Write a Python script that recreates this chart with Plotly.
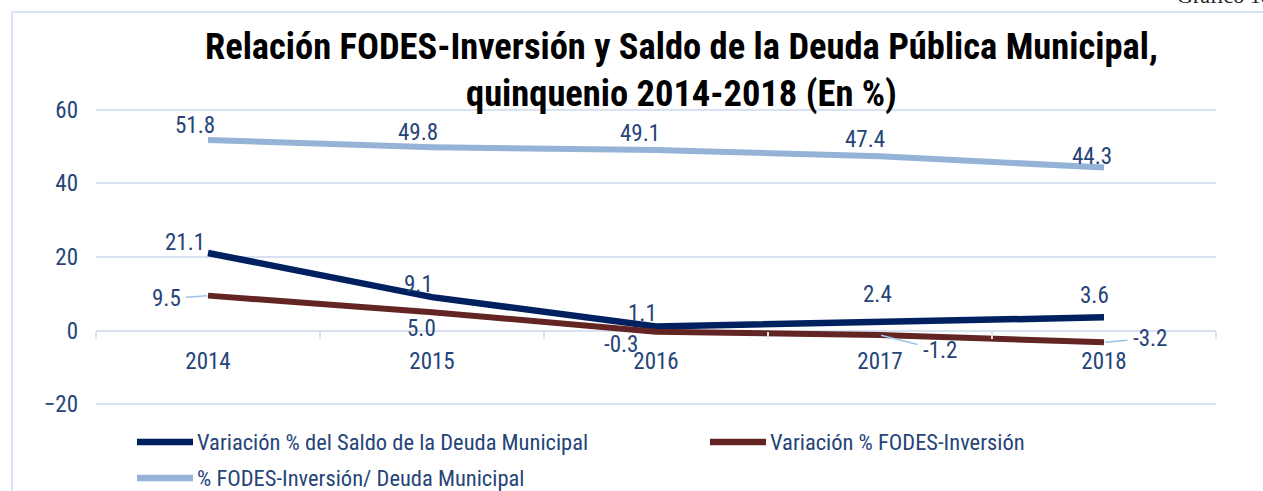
import plotly.graph_objects as go

# ---------------- data ----------------
years = ["2014", "2015", "2016", "2017", "2018"]
var_deuda = [21.1, 9.1, 1.1, 2.4, 3.6]
var_fodes = [9.5, 5.0, -0.3, -1.2, -3.2]
fodes_deuda = [51.8, 49.8, 49.1, 47.4, 44.3]
series_names = [
    "Variación % del Saldo de la Deuda Municipal",
    "Variación % FODES-Inversión",
    "% FODES-Inversión/ Deuda Municipal",
]
y_ticks = [-20, 0, 20, 40, 60]
title_text = "Relación FODES-Inversión y Saldo de la Deuda Pública Municipal,<br>quinquenio 2014-2018 (En %)"
corner_text = "Gráfico 18"

# ---------------- style ----------------
W, H = 1263, 491
L, R, T, B = 96, 1216, 108, 406
YMIN, YMAX = -20.5, 60.5
FONT = "Liberation Sans Narrow, Arial Narrow, Roboto Condensed, DejaVu Sans Condensed, sans-serif"
TXT = "#264478"
GRID = "#D9E2F3"
colors = ["#002060", "#632523", "#95B3D7"]
widths = [6.5, 6, 6]
LEADER = "#9DC3E6"
FS = 23


def px(xp):
    return (xp - L) / (R - L)


def py(yp):
    return (B - yp) / (B - T)


fig = go.Figure()
all_series = [var_deuda, var_fodes, fodes_deuda]
for vals, name, c, w in zip(all_series, series_names, colors, widths):
    fig.add_trace(go.Scatter(x=years, y=vals, name=name, mode="lines",
                             line=dict(color=c, width=w), showlegend=False))

# data labels: ("s", xshift, yshift) or ("a", ax, ay) with leader line
label_style = [
    [("s", -23, 10), ("s", -14, 13), ("s", -14, 13), ("s", -3, 27), ("s", -10, 22)],
    [("a", -42, 3), ("s", -11, -16), ("s", -35, -13), ("a", 60, 15), ("a", 46, -4)],
    [("s", -13, 15), ("s", -14, 15), ("s", -16, 16), ("s", -15, 17), ("s", -12, 11)],
]
for vals, styles in zip(all_series, label_style):
    for i, (v, st) in enumerate(zip(vals, styles)):
        kind, dx, dy = st
        if kind == "s":
            fig.add_annotation(xref="x", yref="y", x=i, y=v, text=f"{v:.1f}",
                               showarrow=False, xshift=dx, yshift=dy,
                               font=dict(family=FONT, size=FS, color=TXT))
        else:
            fig.add_annotation(xref="x", yref="y", x=i, y=v, text=f"{v:.1f}",
                               showarrow=True, axref="pixel", ayref="pixel",
                               ax=dx, ay=dy, arrowhead=0, arrowwidth=1.5,
                               arrowcolor=LEADER, standoff=1, startstandoff=4,
                               font=dict(family=FONT, size=FS, color=TXT))

# title
fig.add_annotation(xref="paper", yref="paper", x=px(681), y=py(23), yanchor="top",
                   xanchor="center", text=f"<b>{title_text}</b>", showarrow=False,
                   font=dict(family=FONT, size=36.5, color="#000000"))
# corner text (partially cut off at the top edge, as in the reference)
fig.add_annotation(xref="paper", yref="paper", x=px(1175), y=py(10), yanchor="bottom",
                   xanchor="left", text=corner_text, showarrow=False,
                   font=dict(family="Liberation Serif, serif", size=22, color="#222222"))

# frame (left and top)
FRAME = "#D6E3F3"
fig.add_shape(type="line", xref="paper", yref="paper", x0=px(12), x1=px(12),
              y0=py(12), y1=py(500), line=dict(color=FRAME, width=2))
fig.add_shape(type="line", xref="paper", yref="paper", x0=px(12), x1=px(1300),
              y0=py(12), y1=py(12), line=dict(color=FRAME, width=2))

# custom legend
legend_pos = [(137, 442), (710, 442), (137, 478)]
for (lx, ly), name, c in zip(legend_pos, series_names, colors):
    fig.add_shape(type="line", xref="paper", yref="paper", x0=px(lx), x1=px(lx + 56),
                  y0=py(ly), y1=py(ly), line=dict(color=c, width=6.5))
    fig.add_annotation(xref="paper", yref="paper", x=px(lx + 58), y=py(ly),
                       xanchor="left", yanchor="middle", text=name, showarrow=False,
                       font=dict(family=FONT, size=22.5, color=TXT))

fig.update_layout(
    width=W, height=H,
    margin=dict(l=L, r=W - R, t=T, b=H - B, pad=0),
    paper_bgcolor="white", plot_bgcolor="white",
    showlegend=False,
    xaxis=dict(type="category", categoryorder="array", categoryarray=years,
               range=[-0.5, len(years) - 0.5], anchor="free",
               position=(0 - YMIN) / (YMAX - YMIN),
               showgrid=False, showline=False, zeroline=False,
               ticks="outside", tickson="boundaries", ticklen=7, tickwidth=2,
               tickcolor=FRAME, ticklabelstandoff=14,
               tickfont=dict(family=FONT, size=FS, color=TXT)),
    yaxis=dict(range=[YMIN, YMAX], tickvals=y_ticks, showgrid=True, gridcolor=GRID,
               gridwidth=2, zeroline=False, showline=False, ticks="",
               ticklabelstandoff=17,
               tickfont=dict(family=FONT, size=FS, color=TXT)),
)

fig.write_html("out.html", config={"displayModeBar": False},
               post_script="document.body.style.margin='0';document.body.style.overflow='hidden';")
